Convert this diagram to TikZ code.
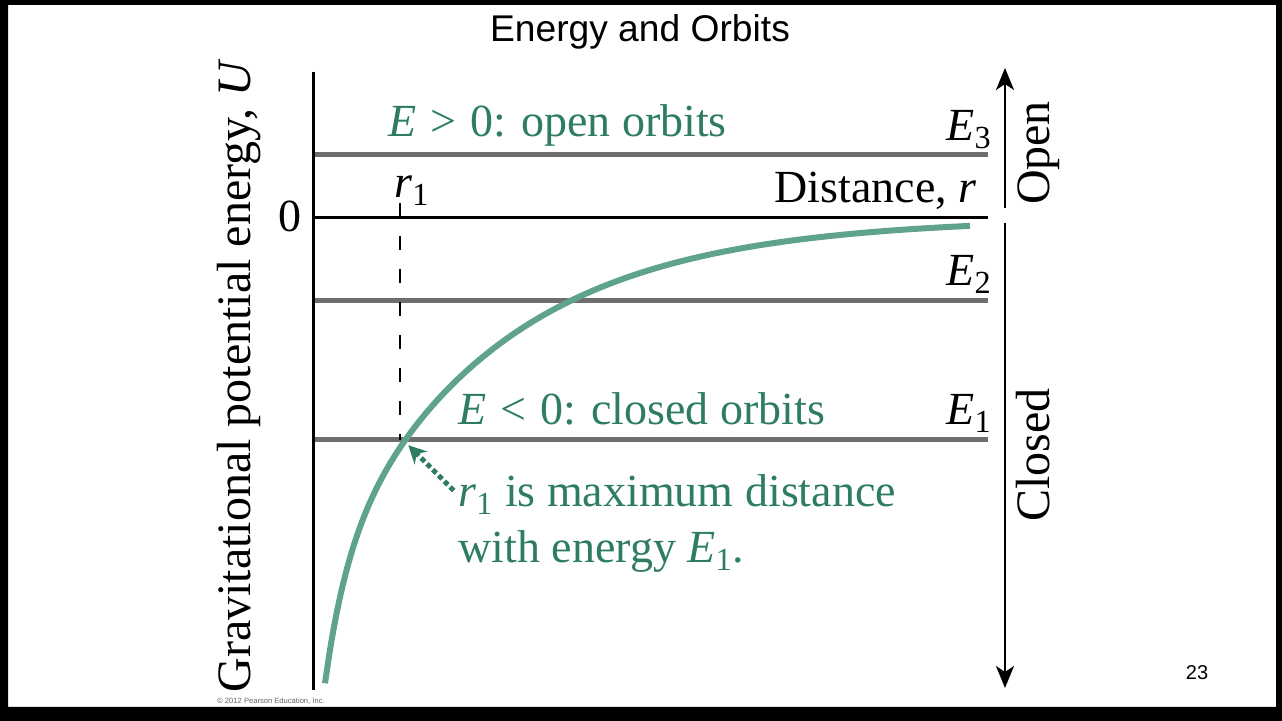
\documentclass[tikz,border=0pt]{standalone}
\usepackage{amsmath}
\usepackage{fontspec}
\setmainfont{Liberation Serif}
\newfontfamily\arialfont{Liberation Sans}
\usetikzlibrary{arrows.meta, positioning}
\definecolor{curvegreen}{RGB}{95, 163, 138}
\definecolor{textgreen}{RGB}{46, 125, 99}
\definecolor{levelgray}{RGB}{110, 110, 110}
\newcommand{\serifbig}{\fontsize{23}{28}\selectfont}
\newcommand{\En}[1]{\textit{E}$_{\text{#1}}$}
\newcommand{\rel}[1]{\hspace{0.3em}#1\hspace{0.3em}}

\begin{document}
\begin{tikzpicture}[
    x=0.5pt, y=-0.5pt,
    axisline/.style={line width=1.5pt, black},
    level/.style={line width=2.5pt, levelgray},
    potential/.style={line width=3pt, curvegreen},
    txt/.style={font=\serifbig, inner sep=0pt},
    gtxt/.style={font=\serifbig, inner sep=0pt, textgreen},
    vtxt/.style={font=\fontsize{24}{28}\selectfont, inner sep=0pt, rotate=90, anchor=base},
    region/.style={-{Stealth[length=11pt, width=9pt, inset=3pt]}, line width=1.25pt},
    pointer/.style={-{Stealth[length=9pt, width=9pt, inset=3pt]}, textgreen,
                    line width=2.5pt, dash pattern=on 2.5pt off 1.6pt},
]

%% ── frame ───────────────────────────────────────────────────────────────────
\useasboundingbox (0,0) rectangle (1282,721);
\fill[black, even odd rule] (0,0) rectangle (1282,721) (8,5) rectangle (1276,707);

\node[font=\arialfont\fontsize{18.6}{22}\selectfont, anchor=base] (title) at (640,42) {Energy and Orbits};
\node[font=\arialfont\fontsize{10}{12}\selectfont, anchor=base] (page) at (1197,680) {23};
\node[font=\arialfont\fontsize{3.8}{5}\selectfont, text=black!60, anchor=base] (copy) at (271,704)
     {\textcopyright\ 2012 Pearson Education, Inc.};

%% ── axes and energy levels ──────────────────────────────────────────────────
\coordinate (o)    at (313,218);
\coordinate (otop) at (313,72);
\coordinate (obot) at (313,690);
\coordinate (oend) at (988,218);

\draw[level] (313,155) -- (988,155);
\draw[level] (313,301) -- (988,301);
\draw[level] (313,440) -- (988,440);
\draw[axisline] (otop) -- (obot);
\draw[axisline] (o) -- (oend);

% r1 marker
\coordinate (rtick) at (400,203);
\coordinate (rlow)  at (400,440);
\draw[line width=1.25pt, dash pattern=on 7pt off 9.5pt] (rtick) -- (rlow);

%% ── potential curve ─────────────────────────────────────────────────────────
\draw[potential] plot[domain=325:970, samples=120, smooth]
    (\x, {218 + 222*exp(-(\x-403)/170) + 114*exp(-(\x-325)/22)});

%% ── labels ──────────────────────────────────────────────────────────────────
\node[vtxt] (ulab) at (250,376) {Gravitational potential energy, \textit{U}};
\node[txt, anchor=base] (zero) at (290,232) {0};
\node[txt, anchor=base west] (r1) at (394,198) {\textit{r}$_{\text{1}}$};
\node[txt, anchor=base east] (dist) at (977,203) {Distance, \textit{r}};

\node[txt, anchor=base east] (e3) at (992,141) {\En{3}};
\node[txt, anchor=base east] (e2) at (992,286) {\En{2}};
\node[txt, anchor=base east] (e1) at (992,425) {\En{1}};

\node[gtxt, anchor=base west] (open) at (388,137) {\textit{E}\rel{>}0: open orbits};
\node[gtxt, anchor=base west] (closed) at (458,425) {\textit{E}\rel{<}0: closed orbits};
\node[gtxt, anchor=base west] (note1) at (458,507) {\textit{r}$_{\text{1}}$ is maximum distance};
\node[gtxt, anchor=base west] (note2) at (458,563) {with energy \En{1}.};

\coordinate (rpt) at (404,441);
\draw[pointer, shorten <=3pt, shorten >=3pt] (note1.west) -- (rpt);

%% ── open / closed ───────────────────────────────────────────────────────────
\coordinate (up0)   at (1005,208);
\coordinate (up1)   at (1005,68);
\coordinate (down0) at (1005,223);
\coordinate (down1) at (1005,688);
\draw[region] (up0) -- (up1);
\draw[region] (down0) -- (down1);
\node[vtxt] (openlab)   at (1049,153) {Open};
\node[vtxt] (closedlab) at (1049,455) {Closed};

\end{tikzpicture}
\end{document}
